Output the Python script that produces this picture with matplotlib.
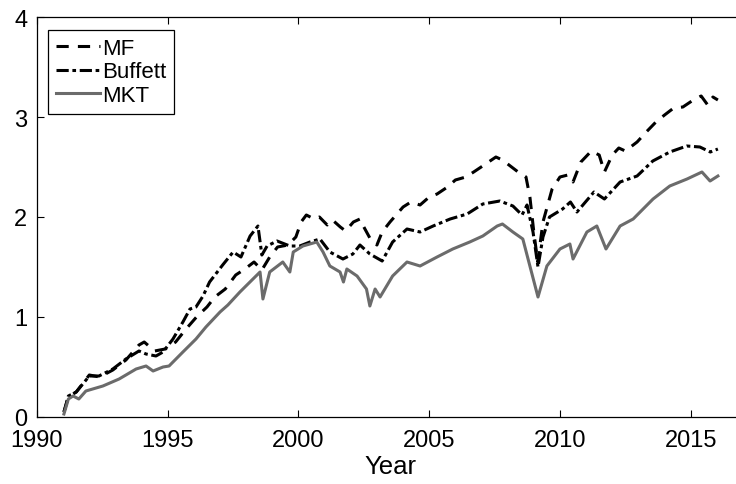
import numpy as np
import matplotlib
matplotlib.use('Agg')
import matplotlib.pyplot as plt

plt.rcParams['font.family'] = ['Liberation Sans', 'DejaVu Sans']

# Cumulative performance, read at irregular dates (fractional years)
mf_year = [1991.03, 1991.2, 1991.5, 1992.0, 1992.4, 1992.9, 1993.4, 1993.9, 1994.1,
           1994.5, 1994.9, 1995.3, 1995.7, 1996.1, 1996.5, 1996.8, 1997.2, 1997.6,
           1997.95, 1998.3, 1998.6, 1998.9, 1999.2, 1999.6, 1999.9, 2000.1, 2000.3,
           2000.6, 2000.8, 2001.1, 2001.3, 2001.6, 2001.8, 2002.1, 2002.35, 2002.5,
           2002.75, 2003.0, 2003.2, 2003.5, 2004.0, 2004.3, 2004.65, 2005.0, 2005.3,
           2005.7, 2006.0, 2006.4, 2006.7, 2007.1, 2007.55, 2007.8, 2008.15, 2008.4,
           2008.7, 2008.85, 2009.0, 2009.15, 2009.35, 2009.7, 2010.0, 2010.3, 2010.5,
           2010.8, 2011.2, 2011.5, 2011.7, 2012.0, 2012.25, 2012.5, 2012.95, 2013.3,
           2013.67, 2014.0, 2014.35, 2014.7, 2015.1, 2015.4, 2015.65, 2015.85, 2016.04]
mf = [0.05, 0.20, 0.25, 0.42, 0.40, 0.47, 0.57, 0.72, 0.75,
      0.66, 0.68, 0.75, 0.88, 1.00, 1.10, 1.20, 1.28, 1.42,
      1.48, 1.55, 1.47, 1.60, 1.70, 1.72, 1.80, 1.95, 2.02,
      1.98, 2.00, 1.92, 1.97, 1.90, 1.86, 1.95, 1.98, 1.90,
      1.78, 1.72, 1.85, 1.95, 2.10, 2.15, 2.12, 2.20, 2.23,
      2.30, 2.37, 2.40, 2.45, 2.52, 2.60, 2.57, 2.50, 2.45,
      2.40, 2.20, 1.85, 1.55, 1.95, 2.28, 2.40, 2.42, 2.35,
      2.55, 2.66, 2.62, 2.45, 2.62, 2.69, 2.66, 2.75, 2.85,
      2.95, 3.02, 3.09, 3.10, 3.17, 3.21, 3.12, 3.20, 3.17]

buffett_year = [1991.03, 1991.2, 1991.5, 1992.0, 1992.37, 1992.9, 1993.4, 1993.9, 1994.17,
                1994.55, 1994.82, 1995.2, 1995.58, 1995.85, 1996.08, 1996.35, 1996.6, 1997.1,
                1997.5, 1997.8, 1998.15, 1998.45, 1998.6, 1998.8, 1999.18, 1999.67, 2000.05,
                2000.44, 2000.82, 2001.2, 2001.7, 2002.08, 2002.35, 2002.73, 2003.2, 2003.6,
                2004.15, 2004.65, 2005.15, 2005.8, 2006.45, 2007.05, 2007.7, 2008.2, 2008.55,
                2008.74, 2008.97, 2009.16, 2009.35, 2009.6, 2010.1, 2010.4, 2010.65, 2011.3,
                2011.7, 2012.3, 2012.95, 2013.55, 2014.2, 2014.85, 2015.35, 2015.75, 2016.04]
buffett = [0.05, 0.21, 0.25, 0.41, 0.41, 0.48, 0.58, 0.66, 0.63,
           0.61, 0.65, 0.78, 0.95, 1.08, 1.10, 1.21, 1.35, 1.52,
           1.65, 1.60, 1.81, 1.91, 1.62, 1.71, 1.76, 1.71, 1.71,
           1.75, 1.78, 1.65, 1.58, 1.63, 1.72, 1.63, 1.56, 1.75,
           1.88, 1.85, 1.91, 1.98, 2.03, 2.13, 2.16, 2.11, 2.02,
           2.12, 1.85, 1.50, 1.80, 2.00, 2.08, 2.15, 2.05, 2.25,
           2.18, 2.35, 2.41, 2.56, 2.65, 2.71, 2.70, 2.65, 2.68]

mkt_year = [1991.03, 1991.2, 1991.38, 1991.6, 1991.87, 1992.52, 1993.14, 1993.79, 1994.17,
            1994.44, 1994.82, 1995.05, 1995.58, 1996.08, 1996.46, 1997.0, 1997.3, 1997.76,
            1998.26, 1998.53, 1998.64, 1998.9, 1999.4, 1999.67, 1999.8, 2000.17, 2000.7,
            2000.94, 2001.2, 2001.59, 2001.72, 2001.85, 2002.24, 2002.6, 2002.73, 2002.93,
            2003.12, 2003.6, 2004.15, 2004.65, 2005.3, 2005.9, 2006.55, 2007.05, 2007.6,
            2007.8, 2008.2, 2008.58, 2008.85, 2009.16, 2009.5, 2010.0, 2010.38, 2010.5,
            2011.03, 2011.41, 2011.76, 2012.3, 2012.8, 2013.56, 2014.2, 2014.86, 2015.43,
            2015.74, 2016.04]
mkt = [0.03, 0.18, 0.21, 0.18, 0.26, 0.31, 0.38, 0.48, 0.51,
       0.46, 0.50, 0.51, 0.65, 0.78, 0.90, 1.05, 1.12, 1.25,
       1.38, 1.45, 1.18, 1.45, 1.55, 1.45, 1.65, 1.71, 1.75,
       1.65, 1.51, 1.45, 1.35, 1.48, 1.41, 1.28, 1.11, 1.28,
       1.20, 1.41, 1.55, 1.51, 1.60, 1.68, 1.75, 1.81, 1.91,
       1.93, 1.85, 1.78, 1.51, 1.20, 1.51, 1.68, 1.73, 1.58,
       1.85, 1.91, 1.68, 1.91, 1.98, 2.18, 2.31, 2.38, 2.45,
       2.36, 2.41]

fig = plt.figure(figsize=(7.36, 4.85), dpi=100)
ax = fig.add_axes([37 / 736, 67 / 485, 706 / 736, 400 / 485])

ax.plot(mf_year, mf, color='black', lw=2.2, dashes=(4, 3), label='MF')
ax.plot(buffett_year, buffett, color='black', lw=2.2, dashes=(4, 1.2, 1.2, 1.2), label='Buffett')
ax.plot(mkt_year, mkt, color='#6b6b6b', lw=2.2, label='MKT')

ax.set_xlim(1990, 2017)
ax.set_ylim(0, 4)
ax.set_xticks([1990, 1995, 2000, 2005, 2010, 2015])
ax.set_yticks([0, 1, 2, 3, 4])
ax.tick_params(direction='in', length=5, width=0.8, labelsize=17,
               top=True, right=True)
ax.tick_params(axis='x', pad=9)
ax.tick_params(axis='y', pad=7)
ax.set_xlabel('Year', fontsize=18.5, labelpad=2)
for s in ax.spines.values():
    s.set_linewidth(0.9)

leg = ax.legend(loc='upper left', bbox_to_anchor=(11 / 706, 1 - 13 / 400),
                fontsize=16, frameon=True, fancybox=False, framealpha=1,
                edgecolor='black', handlelength=2.0, handletextpad=0.1,
                labelspacing=0.12, borderpad=0.35, borderaxespad=0)
leg.get_frame().set_linewidth(0.9)

fig.savefig('out.png', dpi=100)
